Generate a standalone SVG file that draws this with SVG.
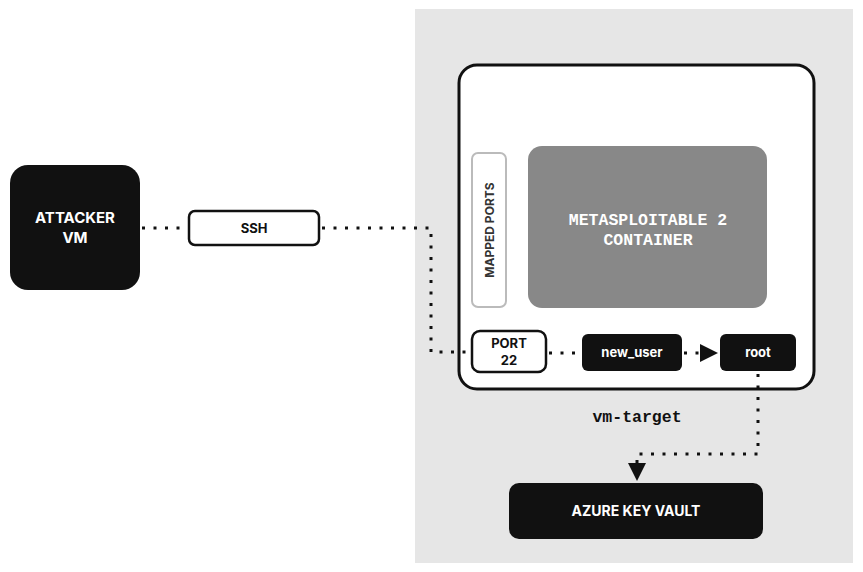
<svg xmlns="http://www.w3.org/2000/svg" width="863" height="572" viewBox="0 0 863 572">
<defs>
<style>
.lbl{font-family:Inter,"Liberation Sans",sans-serif;font-weight:700;text-anchor:middle}
.mono{font-family:"Liberation Mono","DejaVu Sans Mono",monospace;font-weight:700;text-anchor:middle}
.dot{fill:none;stroke:#111;stroke-width:3;stroke-dasharray:3 8.5}
.dark{fill:#111}
</style>
<marker id="arr" viewBox="0 0 10 10" refX="10" refY="5" markerWidth="6" markerHeight="6" markerUnits="strokeWidth" orient="auto">
<path d="M0,0 L10,5 L0,10 z" fill="#111"/>
</marker>
</defs>
<rect x="0" y="0" width="863" height="572" fill="#fff"/>
<g id="zone">
<rect x="415" y="9" width="438" height="554" fill="#e6e6e6"/>
</g>
<g id="vm-target">
<rect x="459" y="65" width="355" height="324" rx="18" fill="#fff" stroke="#111" stroke-width="3"/>
<text class="mono" x="637" y="422" font-size="16.5" fill="#111">vm-target</text>
</g>
<g id="connectors">
<path class="dot" d="M142,228 H188"/>
<path class="dot" d="M322,228 H431 V352 H470"/>
<path class="dot" d="M549,353 H581"/>
<path class="dot" d="M684,353 H718" marker-end="url(#arr)"/>
<path class="dot" d="M758,374 V454 H637 V481" marker-end="url(#arr)"/>
</g>
<g id="attacker">
<rect x="10" y="165" width="130" height="125" rx="18" class="dark"/>
<text class="lbl" x="75" y="223" font-size="15" fill="#fff">ATTACKER</text>
<text class="lbl" x="75" y="243" font-size="15" fill="#fff">VM</text>
</g>
<g id="ssh">
<rect x="189" y="211" width="130" height="34" rx="6" fill="#fff" stroke="#111" stroke-width="2.5"/>
<text class="lbl" x="254" y="233" font-size="13" fill="#111">SSH</text>
</g>
<g id="mapped-ports">
<rect x="472" y="153" width="34" height="154" rx="6" fill="#fff" stroke="#bbb" stroke-width="2"/>
<text class="lbl" transform="translate(494,230) rotate(-90)" x="0" y="0" font-size="12" fill="#333">MAPPED PORTS</text>
</g>
<g id="container">
<rect x="528" y="146" width="239" height="162" rx="14" fill="#888"/>
<text class="mono" x="648" y="225" font-size="16.5" fill="#fff">METASPLOITABLE 2</text>
<text class="mono" x="648" y="245" font-size="16.5" fill="#fff">CONTAINER</text>
</g>
<g id="port22">
<rect x="472" y="331" width="74" height="41" rx="8" fill="#fff" stroke="#111" stroke-width="2.5"/>
<text class="lbl" x="509" y="348" font-size="13" fill="#111">PORT</text>
<text class="lbl" x="509" y="365" font-size="13" fill="#111">22</text>
</g>
<g id="new_user">
<rect x="582" y="334" width="100" height="37" rx="6" class="dark"/>
<text class="lbl" x="632" y="357" font-size="13" fill="#fff">new_user</text>
</g>
<g id="root">
<rect x="720" y="334" width="76" height="37" rx="6" class="dark"/>
<text class="lbl" x="758" y="357" font-size="13" fill="#fff">root</text>
</g>
<g id="azure">
<rect x="509" y="483" width="254" height="56" rx="10" class="dark"/>
<text class="lbl" x="636" y="516" font-size="14" fill="#fff">AZURE KEY VAULT</text>
</g>
</svg>
